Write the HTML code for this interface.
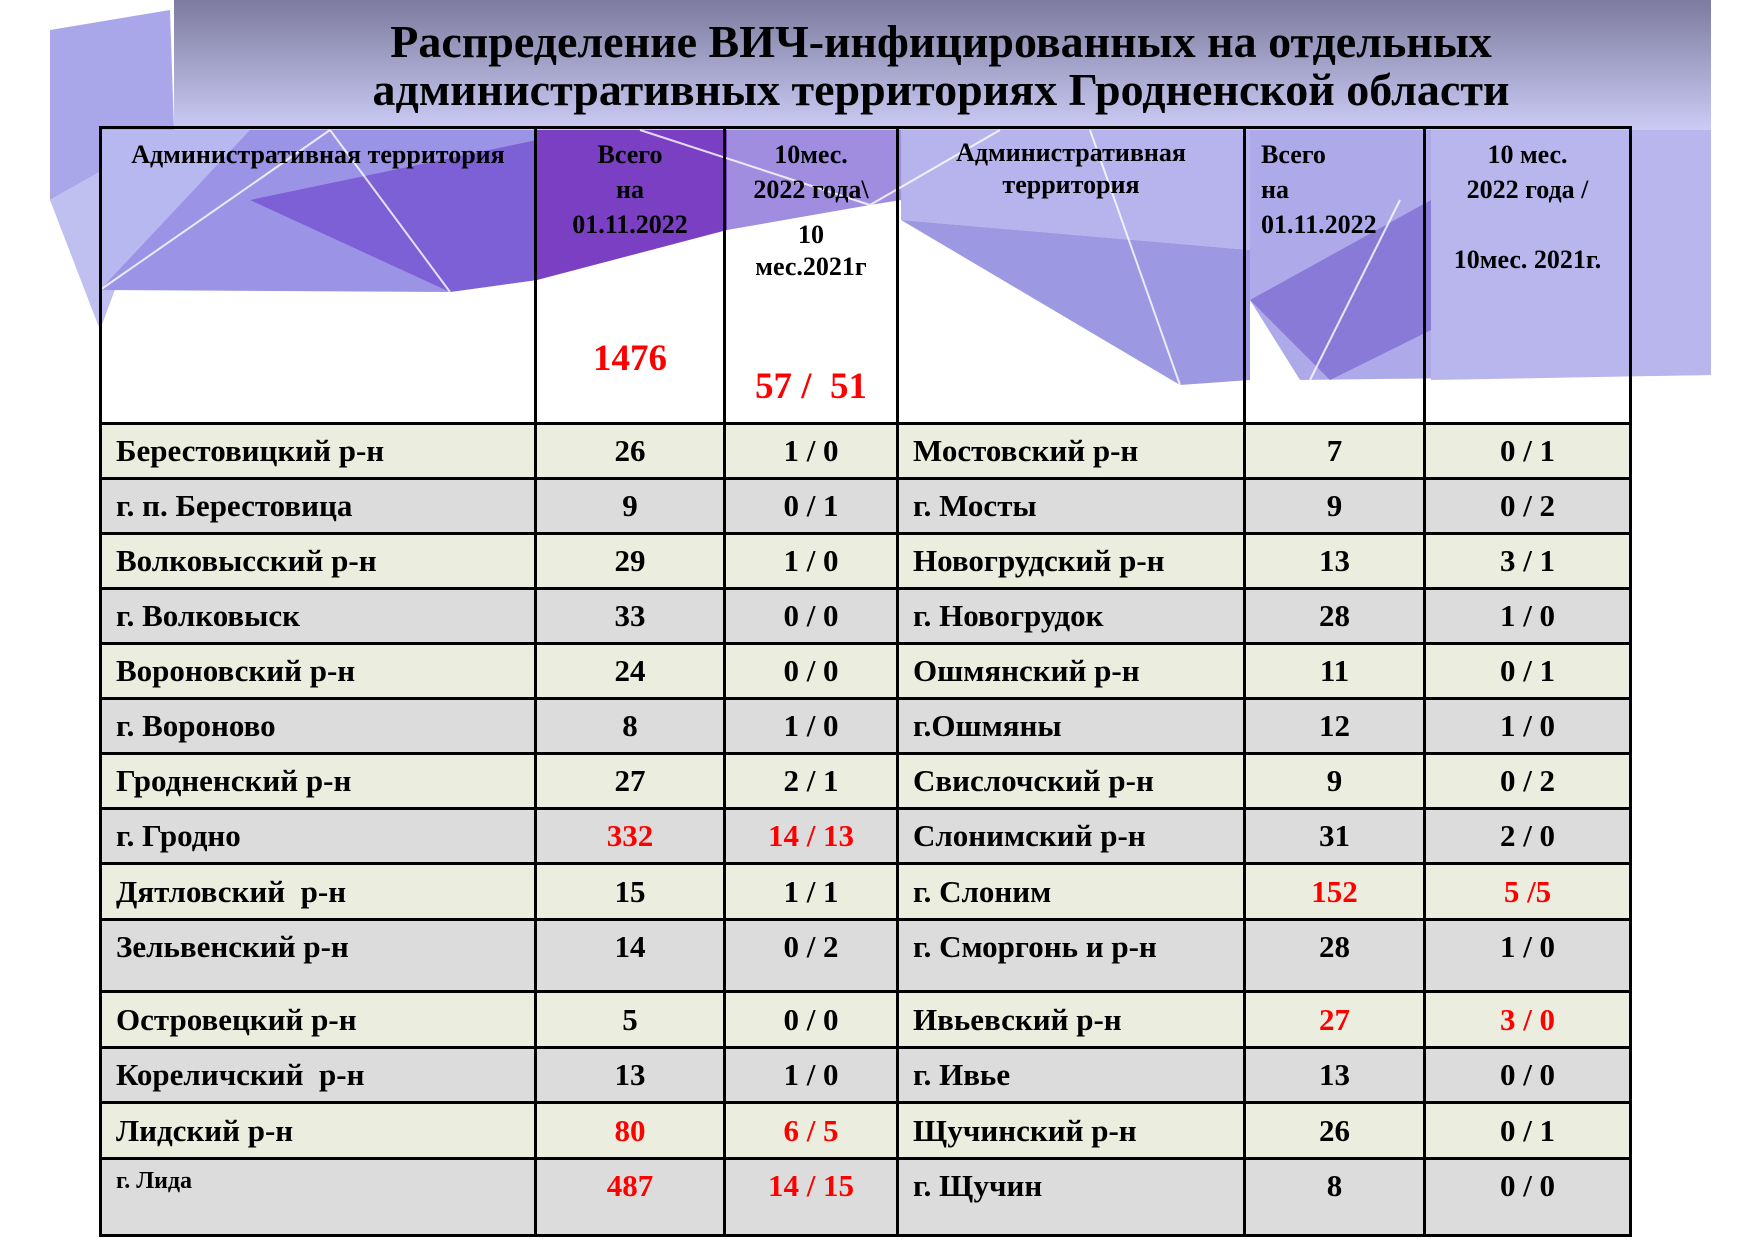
<!DOCTYPE html>
<html><head><meta charset="utf-8"><style>
html,body{margin:0;padding:0;background:#fff;}
#w{position:relative;width:1754px;height:1240px;overflow:hidden;font-family:"Liberation Serif","DejaVu Serif",serif;font-weight:bold;}
svg{position:absolute;left:0;top:0;}
.t{position:absolute;left:64px;width:1754px;text-align:center;font-size:46px;color:#000;white-space:nowrap;transform:scaleX(1.0);}
table{position:absolute;left:99px;top:126px;border-collapse:collapse;table-layout:fixed;}
td{border:3px solid #000;padding:0;font-size:31px;text-align:center;vertical-align:middle;white-space:nowrap;}
td.l{text-align:left;padding-left:14px;}
tr.a td{background:#ebeedf;}
tr.b td{background:#dcdcdc;}
tr.h td{background:transparent;vertical-align:top;font-size:26px;line-height:35px;}
.r{color:#f00;}
</style></head><body><div id="w">
<svg width="1754" height="1240">
<defs>
<linearGradient id="g1" x1="0" y1="0" x2="0" y2="1"><stop offset="0" stop-color="#7d7b9e"/><stop offset="1" stop-color="#cbcbf5"/></linearGradient>
</defs>
<rect x="174" y="0" width="1537" height="130" fill="url(#g1)"/>
<polygon points="50,30 170,10 174,130 50,200" fill="#a9a7ea"/>
<polygon points="50,200 174,130 100,330 " fill="#c0c0f0"/>
<polygon points="100,130 537,130 537,280 450,292 100,290" fill="#9b93e6"/>
<polygon points="250,200 537,140 537,280 450,292" fill="#7d5fd6"/>
<polygon points="100,130 250,130 100,290" fill="#b8b8f0"/>
<polygon points="537,130 727,130 727,230 537,280" fill="#7a3fc2"/>
<polygon points="727,130 901,130 901,200 870,205 727,230" fill="#a08de0"/>
<polygon points="901,130 1250,130 1250,250 901,220" fill="#b7b3ec"/>
<polygon points="901,220 1250,250 1250,380 1180,385" fill="#9c98e2"/>
<polygon points="1250,130 1711,130 1711,375 1300,380 1250,300" fill="#aeaaea"/>
<polygon points="1250,300 1330,380 1431,330 1431,200" fill="#8a7ad8"/>
<polygon points="1431,130 1711,130 1711,375 1431,380" fill="#b9b6ee"/>
<g stroke="#fff" stroke-width="2" opacity="0.8" fill="none">
<line x1="100" y1="290" x2="330" y2="130"/><line x1="330" y1="130" x2="450" y2="292"/>
<line x1="870" y1="205" x2="1000" y2="130"/><line x1="870" y1="205" x2="640" y2="130"/>
<line x1="1180" y1="385" x2="1090" y2="130"/><line x1="1310" y1="380" x2="1400" y2="200"/>
</g>
</svg>
<div class="t" style="top:15px;">Распределение ВИЧ-инфицированных на отдельных</div>
<div class="t" style="top:63px;">административных территориях Гродненской области</div>
<table>
<colgroup><col style="width:435px"><col style="width:189px"><col style="width:173px"><col style="width:347px"><col style="width:180px"><col style="width:206px"></colgroup>
<tr class="h" style="height:296px">
<td style="text-align:center;padding-top:8px;">Административная территория</td>
<td style="padding-top:8px;position:relative;">Всего<br>на<br>01.11.2022<div class="r" style="position:absolute;left:0;right:0;top:212px;font-size:37px;">1476</div></td>
<td style="padding-top:8px;position:relative;">10мес.<br>2022 года\<br><div style="margin-top:12px;line-height:32px;">10<br>мес.2021г</div><div class="r" style="position:absolute;left:0;right:0;top:240px;font-size:37px;">57 /&nbsp; 51</div></td>
<td style="padding-top:8px;line-height:32px;">Административная<br>территория</td>
<td style="text-align:left;padding-left:15px;padding-top:8px;">Всего<br>на<br>01.11.2022</td>
<td style="padding-top:8px;">10 мес.<br>2022 года /<br><br>10мес. 2021г.</td>
</tr>
<tr class="a" style="height:55px"><td class="l">Берестовицкий р-н</td><td>26</td><td>1 / 0</td><td class="l">Мостовский р-н</td><td>7</td><td>0 / 1</td></tr>
<tr class="b" style="height:55px"><td class="l">г. п. Берестовица</td><td>9</td><td>0 / 1</td><td class="l">г. Мосты</td><td>9</td><td>0 / 2</td></tr>
<tr class="a" style="height:55px"><td class="l">Волковысский р-н</td><td>29</td><td>1 / 0</td><td class="l">Новогрудский р-н</td><td>13</td><td>3 / 1</td></tr>
<tr class="b" style="height:55px"><td class="l">г. Волковыск</td><td>33</td><td>0 / 0</td><td class="l">г. Новогрудок</td><td>28</td><td>1 / 0</td></tr>
<tr class="a" style="height:55px"><td class="l">Вороновский р-н</td><td>24</td><td>0 / 0</td><td class="l">Ошмянский р-н</td><td>11</td><td>0 / 1</td></tr>
<tr class="b" style="height:55px"><td class="l">г. Вороново</td><td>8</td><td>1 / 0</td><td class="l">г.Ошмяны</td><td>12</td><td>1 / 0</td></tr>
<tr class="a" style="height:55px"><td class="l">Гродненский р-н</td><td>27</td><td>2 / 1</td><td class="l">Свислочский р-н</td><td>9</td><td>0 / 2</td></tr>
<tr class="b" style="height:55px"><td class="l">г. Гродно</td><td class="r">332</td><td class="r">14 / 13</td><td class="l">Слонимский р-н</td><td>31</td><td>2 / 0</td></tr>
<tr class="a" style="height:56px"><td class="l">Дятловский&nbsp; р-н</td><td>15</td><td>1 / 1</td><td class="l">г. Слоним</td><td class="r">152</td><td class="r">5 /5</td></tr>
<tr class="b" style="height:72px"><td class="l" style="vertical-align:top;padding-top:8px;">Зельвенский р-н</td><td style="vertical-align:top;padding-top:8px;">14</td><td style="vertical-align:top;padding-top:8px;">0 / 2</td><td class="l" style="vertical-align:top;padding-top:8px;">г. Сморгонь и р-н</td><td style="vertical-align:top;padding-top:8px;">28</td><td style="vertical-align:top;padding-top:8px;">1 / 0</td></tr>
<tr class="a" style="height:56px"><td class="l">Островецкий р-н</td><td>5</td><td>0 / 0</td><td class="l">Ивьевский р-н</td><td class="r">27</td><td class="r">3 / 0</td></tr>
<tr class="b" style="height:55px"><td class="l">Кореличский&nbsp; р-н</td><td>13</td><td>1 / 0</td><td class="l">г. Ивье</td><td>13</td><td>0 / 0</td></tr>
<tr class="a" style="height:56px"><td class="l">Лидский р-н</td><td class="r">80</td><td class="r">6 / 5</td><td class="l">Щучинский р-н</td><td>26</td><td>0 / 1</td></tr>
<tr class="b" style="height:77px"><td class="l" style="vertical-align:top;padding-top:8px;font-size:24px;">г. Лида</td><td class="r" style="vertical-align:top;padding-top:8px;">487</td><td class="r" style="vertical-align:top;padding-top:8px;">14 / 15</td><td class="l" style="vertical-align:top;padding-top:8px;">г. Щучин</td><td style="vertical-align:top;padding-top:8px;">8</td><td style="vertical-align:top;padding-top:8px;">0 / 0</td></tr>
</table>
</div></body></html>
